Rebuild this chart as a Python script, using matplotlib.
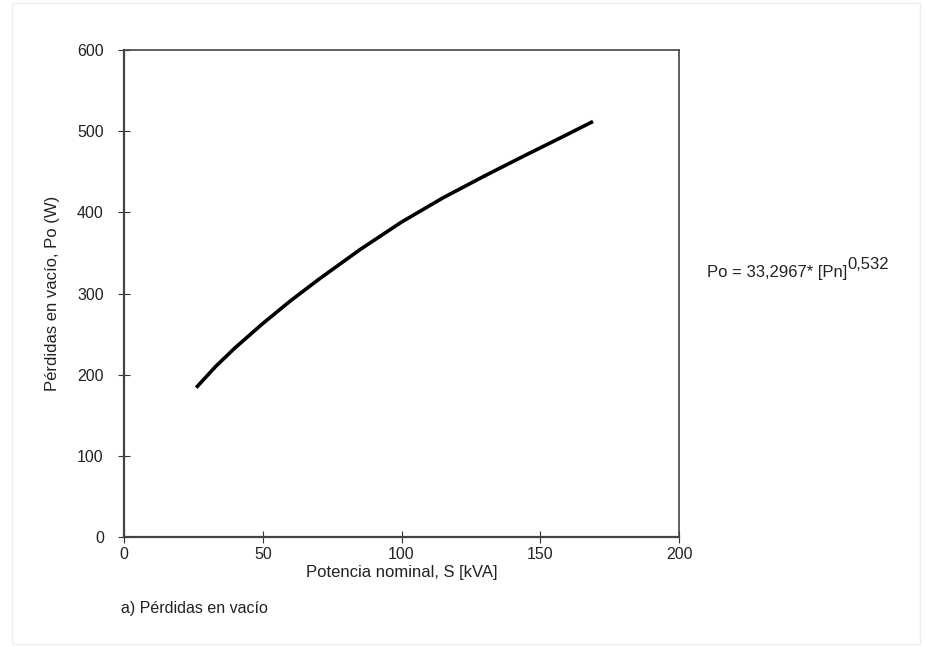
import matplotlib
matplotlib.use("Agg")
import matplotlib.pyplot as plt
from matplotlib.patches import Rectangle

plt.rcParams['font.family'] = ['Liberation Sans', 'DejaVu Sans']

# Data
potencia_kva = [26, 33, 40, 50, 60, 70, 85, 100, 115, 130, 145, 158, 169]
perdidas_w = [184, 210, 233, 263, 291, 317, 354, 388, 418, 445, 471, 493, 512]

x_ticks = [0, 50, 100, 150, 200]
y_ticks = [0, 100, 200, 300, 400, 500, 600]

FS = 11.5

fig = plt.figure(figsize=(9.26, 6.47), dpi=100)
fig.patches.append(Rectangle((0.013, 0.005), 0.98, 0.99, transform=fig.transFigure,
                             fill=False, edgecolor='#eeeeee', linewidth=1))
ax = fig.add_axes([0.1339, 0.170, 0.5994, 0.7527])

ax.plot(potencia_kva, perdidas_w, color='black', linewidth=2.6,
        solid_capstyle='butt', solid_joinstyle='round')

ax.set_xlim(0, 200)
ax.set_ylim(0, 600)
ax.set_xticks(x_ticks)
ax.set_yticks(y_ticks)
ax.tick_params(axis='both', direction='inout', length=9, width=0.8, colors='#333333',
               labelsize=FS, labelcolor='#222222')
ax.tick_params(axis='y', pad=10)
ax.tick_params(axis='x', pad=3)
for s in ax.spines.values():
    s.set_color('#444444')
    s.set_linewidth(1.2)
ax.spines['left'].set_linewidth(1.6)
ax.spines['bottom'].set_linewidth(1.6)

ax.set_xlabel('Potencia nominal, S [kVA]', fontsize=FS + 0.5, color='#222222', labelpad=2)
ax.set_ylabel('Pérdidas en vacío, Po (W)', fontsize=FS + 0.5, color='#222222', labelpad=12)

t = fig.text(0.763, 0.572, 'Po = 33,2967* [Pn]', fontsize=12, color='#222222',
             ha='left', va='baseline')
fig.canvas.draw()
bb = t.get_window_extent()
x_end = bb.x1 / fig.bbox.width
fig.text(x_end + 0.001, 0.572 + 0.012, '0,532', fontsize=12, color='#222222',
         ha='left', va='baseline')
fig.text(0.131, 0.059, 'a) Pérdidas en vacío', fontsize=FS, color='#222222',
         ha='left', va='center')

fig.savefig('out.png', dpi=100)
